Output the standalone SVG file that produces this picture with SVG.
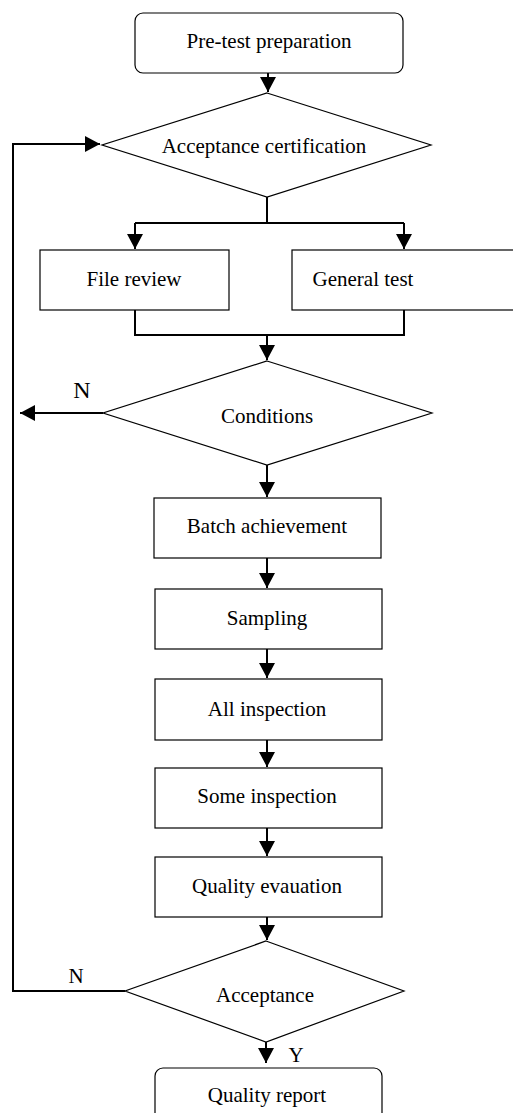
<svg xmlns="http://www.w3.org/2000/svg" width="513" height="1113" viewBox="0 0 513 1113">
<defs>
<marker id="ah" markerWidth="16" markerHeight="16" viewBox="0 0 16 16" refX="15" refY="8" orient="auto" markerUnits="userSpaceOnUse">
<path d="M0,0 L15,8 L0,16 Z" fill="#000"/>
</marker>
</defs>
<style>
.box{fill:#fff;stroke:#000;stroke-width:1.2}
text{font-family:'Liberation Serif','Times New Roman','DejaVu Serif',serif;font-size:21px;fill:#000;text-anchor:middle}
.c{fill:none;stroke:#000;stroke-width:2}
</style>
<rect width="513" height="1113" fill="#fff"/>
<g id="connectors" font-family="Liberation Serif, serif">
<path class="c" d="M268,73 V92" marker-end="url(#ah)"/>
<path class="c" d="M267,197 V223 M135,223 H404"/>
<path class="c" d="M135,223 V249" marker-end="url(#ah)"/>
<path class="c" d="M404,223 V249" marker-end="url(#ah)"/>
<path class="c" d="M135,310 V335 H404 V310"/>
<path class="c" d="M267,335 V360" marker-end="url(#ah)"/>
<path class="c" d="M103,413 H20" marker-end="url(#ah)"/>
<path class="c" d="M267,465 V497" marker-end="url(#ah)"/>
<path class="c" d="M267,558 V588" marker-end="url(#ah)"/>
<path class="c" d="M267,649 V678" marker-end="url(#ah)"/>
<path class="c" d="M267,740 V767" marker-end="url(#ah)"/>
<path class="c" d="M267,828 V856" marker-end="url(#ah)"/>
<path class="c" d="M267,917 V940" marker-end="url(#ah)"/>
<path class="c" d="M125,991 H13 V144 H100" marker-end="url(#ah)"/>
<path class="c" d="M266,1042 V1063" marker-end="url(#ah)"/>
<text x="82" y="398" style="font-size:24px">N</text>
<text x="76" y="983">N</text>
<text x="296" y="1062">Y</text>
</g>
<g id="pretest">
<rect class="box" x="135" y="13" width="268" height="60" rx="8"/>
<text x="269" y="48">Pre-test preparation</text>
</g>
<g id="acceptcert">
<polygon class="box" points="267,93 431,145 267,197 102,145"/>
<text x="264" y="153">Acceptance certification</text>
</g>
<g id="filereview">
<rect class="box" x="40" y="250" width="189" height="60"/>
<text x="134" y="286">File review</text>
</g>
<g id="generaltest">
<rect class="box" x="292" y="250" width="230" height="60"/>
<text x="363" y="286">General test</text>
</g>
<g id="conditions">
<polygon class="box" points="267,361 432,413 267,465 103,413"/>
<text x="267" y="423">Conditions</text>
</g>
<g id="batch">
<rect class="box" x="154" y="498" width="227" height="60"/>
<text x="267" y="533">Batch achievement</text>
</g>
<g id="sampling">
<rect class="box" x="155" y="589" width="227" height="60"/>
<text x="267" y="625">Sampling</text>
</g>
<g id="allinsp">
<rect class="box" x="155" y="679" width="227" height="61"/>
<text x="267" y="716">All inspection</text>
</g>
<g id="someinsp">
<rect class="box" x="155" y="768" width="227" height="60"/>
<text x="267" y="803">Some inspection</text>
</g>
<g id="qualeval">
<rect class="box" x="155" y="857" width="227" height="60"/>
<text x="267" y="893">Quality evauation</text>
</g>
<g id="acceptance">
<polygon class="box" points="266,941 404,991 266,1042 125,991"/>
<text x="265" y="1002">Acceptance</text>
</g>
<g id="qualreport">
<rect class="box" x="155" y="1068" width="227" height="70" rx="8"/>
<text x="267" y="1102">Quality report</text>
</g>
</svg>
